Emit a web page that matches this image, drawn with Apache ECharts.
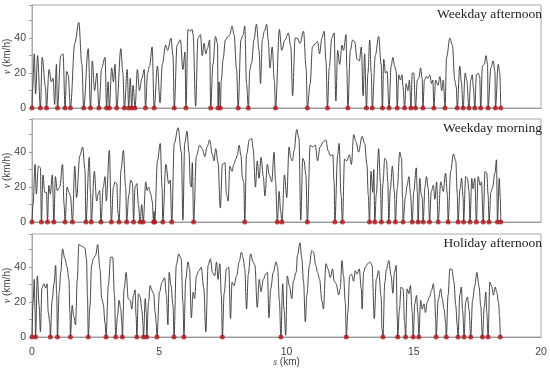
<!DOCTYPE html>
<html><head><meta charset="utf-8">
<script src="https://cdn.jsdelivr.net/npm/echarts@6/dist/echarts.min.js"></script>
<style>html,body{margin:0;padding:0;background:#fff}#c{width:550px;height:370px}</style>
</head><body><div id="c"></div>
<script>
const panelTitles = ['Weekday afternoon', 'Weekday morning', 'Holiday afternoon'];
const xTicks = [0, 5, 10, 15, 20];
const yTicks = [0, 20, 40];

// [s (km), v (km/h)] ; v = 0 marks a stop (red dot)
const weekdayAfternoon = [
[0,0],[0.02,10],[0.09,31],[0.14,8],[0.22,30],[0.33,0],
[0.40,29],[0.53,12],[0.57,0],
[0.67,22],[0.76,15],[0.83,17],[0.89,2],[0.96,25],[1.00,0],
[1.13,30],[1.22,31],[1.30,0],
[1.36,21],[1.42,19],[1.51,0],
[1.68,37],[1.84,49],[1.96,25],[2.03,0],
[2.21,34],[2.30,0],
[2.37,27],[2.46,10],[2.55,20],[2.63,0],
[2.74,23],[2.87,29],[2.93,0],
[2.99,15],[3.04,0],
[3.13,23],[3.20,15],[3.26,25],[3.33,0],
[3.49,34],[3.57,20],[3.63,0],
[3.74,22],[3.80,0],
[3.86,17],[3.92,0],
[3.97,13],[4.05,0],
[4.14,22],[4.22,10],[4.32,17],[4.41,22],[4.46,0],
[4.54,20],[4.62,24],[4.72,35],[4.80,0],
[4.93,24],[5.03,3],[5.12,25],[5.25,36],[5.33,33],[5.46,40],[5.54,30],[5.59,0],
[5.70,36],[5.83,39],[5.93,22],[6.01,32],[6.05,0],
[6.13,45],[6.22,44],[6.29,45],[6.33,42],[6.43,1],
[6.52,40],[6.62,42],[6.69,30],[6.76,37],[6.83,31],[6.89,34],[6.98,39],[7.02,0],
[7.11,25],[7.21,41],[7.29,37],[7.31,0],
[7.35,15],[7.40,0],
[7.44,16],[7.51,28],[7.60,39],[7.71,41],[7.77,42],[7.86,47],[7.94,42],[8.04,22],[8.10,0],
[8.21,39],[8.30,42],[8.36,47],[8.43,14],[8.50,0],
[8.56,22],[8.63,26],[8.72,39],[8.82,48],[8.92,33],[8.98,14],[9.05,39],[9.13,44],[9.22,48],[9.28,39],[9.35,23],[9.44,35],[9.52,16],[9.57,0],
[9.72,45],[9.81,33],[9.94,39],[10.07,43],[10.17,35],[10.24,7],[10.34,40],[10.43,40],[10.53,37],[10.67,44],[10.77,23],[10.82,0],
[10.93,14],[11.02,35],[11.13,37],[11.22,38],[11.30,31],[11.39,40],[11.48,44],[11.55,27],[11.61,0],
[11.68,23],[11.78,40],[11.87,43],[11.94,4],[12.01,33],[12.09,25],[12.18,36],[12.24,33],[12.34,42],[12.37,23],[12.41,0],
[12.51,33],[12.60,39],[12.68,38],[12.77,28],[12.86,27],[12.94,35],[13.01,7],[13.07,31],[13.14,0],
[13.20,20],[13.27,39],[13.33,20],[13.37,0],
[13.49,30],[13.62,41],[13.72,25],[13.77,0],
[13.82,28],[13.89,20],[13.95,21],[14.03,0],
[14.11,24],[14.18,29],[14.25,24],[14.31,21],[14.35,0],
[14.41,19],[14.48,16],[14.54,19],[14.58,12],[14.64,0],
[14.70,14],[14.77,10],[14.83,16],[14.89,0],
[14.94,20],[15.00,20],[15.07,0],
[15.14,16],[15.20,17],[15.27,23],[15.33,17],[15.36,0],
[15.42,16],[15.49,18],[15.56,17],[15.63,19],[15.70,14],[15.75,16],[15.79,0],
[15.86,16],[15.95,13],[16.03,18],[16.10,10],[16.16,16],[16.23,0],
[16.29,29],[16.42,40],[16.52,36],[16.61,16],[16.67,12],[16.71,0],
[16.81,24],[16.87,15],[16.94,0],
[17.02,20],[17.08,16],[17.17,0],
[17.24,16],[17.30,19],[17.34,12],[17.40,0],
[17.46,19],[17.53,20],[17.59,18],[17.63,0],
[17.70,24],[17.77,25],[17.84,30],[17.90,25],[17.92,0],
[18.03,23],[18.12,27],[18.19,21],[18.21,0],
[18.32,25],[18.38,20],[18.42,0]
];

const weekdayMorning = [
[0,0],[0.04,10],[0.12,33],[0.17,16],[0.25,32],[0.33,31],[0.37,0],
[0.43,27],[0.50,17],[0.57,17],[0.61,0],
[0.66,21],[0.72,16],[0.80,27],[0.86,0],
[0.92,26],[0.99,18],[1.09,20],[1.20,33],[1.26,10],[1.30,0],
[1.38,20],[1.45,17],[1.51,15],[1.59,0],
[1.68,32],[1.75,14],[1.88,38],[1.99,43],[2.08,30],[2.12,0],
[2.25,37],[2.30,17],[2.33,0],
[2.45,29],[2.54,12],[2.60,16],[2.66,18],[2.71,0],
[2.80,20],[2.87,26],[2.92,12],[3.04,41],[3.12,0],
[3.20,20],[3.26,23],[3.33,22],[3.38,5],[3.42,0],
[3.50,30],[3.59,41],[3.68,20],[3.72,0],
[3.80,15],[3.88,24],[3.95,22],[3.99,0],
[4.05,20],[4.12,22],[4.18,10],[4.25,0],
[4.31,10],[4.37,0],
[4.47,23],[4.52,18],[4.58,20],[4.67,16],[4.72,12],[4.78,0],
[4.80,6],[4.82,0],
[4.93,35],[5.04,45],[5.11,20],[5.14,0],
[5.26,33],[5.37,22],[5.43,24],[5.49,0],
[5.59,45],[5.74,54],[5.87,40],[5.93,1],
[6.00,45],[6.09,52],[6.17,40],[6.22,22],[6.26,20],[6.30,34],[6.35,0],
[6.46,38],[6.59,44],[6.69,42],[6.79,37.5],[6.88,43],[6.98,47],[7.08,39],[7.15,35],[7.22,42],[7.31,34],[7.40,8],[7.48,33],[7.58,34],[7.64,16],[7.71,12],[7.77,32],[7.86,29],[7.93,33],[8.01,36],[8.07,38.5],[8.14,44],[8.21,38],[8.27,25],[8.32,23],[8.36,0],
[8.43,38.5],[8.54,47],[8.63,48],[8.69,42],[8.78,20],[8.85,35],[8.92,25],[9.00,37],[9.09,26],[9.15,15],[9.25,33],[9.32,27],[9.42,23],[9.51,40],[9.57,23],[9.64,0],
[9.71,17.5],[9.77,6],[9.82,0],
[9.92,27],[10.01,14],[10.10,43],[10.17,36.5],[10.23,35],[10.30,41],[10.40,53],[10.49,48],[10.56,1],[10.64,36.5],[10.69,35],[10.76,27],[10.82,0],
[10.93,44],[11.03,43],[11.13,44],[11.22,35],[11.32,43],[11.45,46],[11.55,47],[11.63,41],[11.72,38],[11.82,38.5],[11.87,23],[11.90,0],
[12.01,38.5],[12.07,45],[12.14,16],[12.20,0],
[12.28,36],[12.37,35],[12.47,38.5],[12.55,33],[12.64,50],[12.73,46],[12.83,40],[12.97,49],[13.07,45],[13.16,33],[13.21,16],[13.26,0],
[13.32,29],[13.39,17],[13.43,30],[13.47,0],
[13.53,16],[13.62,42],[13.69,23],[13.73,0],
[13.79,22],[13.86,36.5],[13.93,35],[13.98,23],[14.02,0],
[14.08,19],[14.16,32],[14.24,17],[14.28,0],
[14.35,19],[14.45,40],[14.52,36.5],[14.56,14],[14.58,0],
[14.68,15],[14.74,21],[14.81,26],[14.87,16],[14.94,0],
[15.00,17.5],[15.10,31],[15.14,17.5],[15.17,0],
[15.24,25],[15.29,16],[15.33,14],[15.37,0],
[15.44,20],[15.50,26],[15.57,19],[15.62,0],
[15.69,17.5],[15.77,21],[15.83,13],[15.90,23],[15.96,0],
[16.06,23],[16.16,17.5],[16.25,28],[16.32,16],[16.35,0],
[16.45,29],[16.56,39],[16.65,35],[16.71,16],[16.74,0],
[16.82,19],[16.88,25],[16.94,14],[16.96,0],
[17.04,26],[17.11,25],[17.17,17.5],[17.21,0],
[17.28,25],[17.33,19],[17.40,25],[17.46,0],
[17.53,26],[17.61,21],[17.66,23],[17.73,0],
[17.80,29],[17.87,28],[17.92,16],[17.96,0],
[18.03,17],[18.09,19.5],[18.19,28],[18.25,35.6],[18.29,0],
[18.36,25],[18.40,14],[18.42,0]
];

const holidayAfternoon = [
[0,0],[0.04,20],[0.09,33],[0.12,15],[0.14,0],
[0.21,35],[0.28,18],[0.33,3],[0.39,28],[0.47,30.5],[0.54,28],[0.59,30.5],[0.64,14],[0.70,8],[0.72,0],
[0.79,21],[0.87,31],[0.93,41],[0.97,24],[1.00,0],
[1.07,26],[1.13,37],[1.20,50.5],[1.29,45],[1.38,40],[1.45,33],[1.49,14],[1.51,0],
[1.58,18],[1.64,12],[1.71,7],[1.78,33],[1.84,53],[1.95,52],[2.08,51],[2.14,45],[2.18,24],[2.21,0],
[2.28,18],[2.34,41],[2.41,45],[2.50,46.7],[2.58,53],[2.67,39],[2.74,22],[2.80,19],[2.87,8],[2.91,0],
[3.00,29.5],[3.09,45.7],[3.17,45.7],[3.24,24],[3.29,0],
[3.36,12],[3.42,21],[3.49,16],[3.53,8],[3.55,0],
[3.62,27.6],[3.70,37],[3.78,22],[3.86,21],[3.92,16],[3.99,24],[4.05,27],[4.09,12],[4.12,0],
[4.18,24.8],[4.25,23],[4.32,15],[4.36,7],[4.38,0],
[4.45,22],[4.49,14],[4.51,0],
[4.58,20],[4.64,29.5],[4.71,26.7],[4.78,24.8],[4.84,14],[4.88,8],[4.91,0],
[5.01,25.7],[5.11,31.4],[5.21,34],[5.28,24],[5.34,7],[5.39,37],[5.46,29.5],[5.54,18],[5.58,0],
[5.67,41],[5.76,47.6],[5.86,44.8],[5.93,20],[5.97,0],
[6.04,33],[6.13,43],[6.19,39],[6.26,11],[6.33,25.7],[6.39,22],[6.46,35],[6.56,38],[6.65,40],[6.75,28],[6.83,3],[6.92,41],[7.01,44.8],[7.09,37],[7.18,35],[7.25,43],[7.31,33],[7.38,42],[7.44,24],[7.48,0],
[7.55,25],[7.64,39],[7.73,40],[7.80,10.5],[7.86,31.4],[7.94,29.5],[8.04,35],[8.14,43],[8.23,48.6],[8.30,45],[8.36,39],[8.43,16],[8.50,36],[8.59,47.6],[8.69,43],[8.76,41],[8.85,17],[8.93,33],[9.00,26],[9.09,33],[9.18,36],[9.25,37],[9.31,11],[9.38,27.6],[9.48,37],[9.59,43],[9.65,40],[9.72,21],[9.78,0],
[9.85,30.5],[9.90,16],[9.97,1],[10.03,35],[10.11,29.5],[10.21,22],[10.27,32],[10.38,37],[10.43,46.7],[10.53,54],[10.60,45],[10.67,31.4],[10.74,8.6],[10.80,24],[10.90,41],[10.99,49.5],[11.06,48.6],[11.15,41],[11.22,37],[11.30,33],[11.39,21],[11.45,16],[11.55,42],[11.63,39],[11.72,34],[11.81,39],[11.87,32],[11.95,30.5],[12.05,24],[12.11,27.6],[12.18,43.8],[12.24,35],[12.31,20],[12.35,0],
[12.41,14],[12.48,35],[12.55,36],[12.64,32],[12.70,38],[12.77,36],[12.86,39],[12.94,27.6],[12.97,16],
[13.03,37],[13.10,40],[13.19,42],[13.29,43],[13.36,41],[13.45,10.5],[13.53,33],[13.62,38],[13.72,23],[13.75,5],[13.79,0],
[13.86,31],[13.93,39],[14.02,43.8],[14.11,35],[14.18,25],[14.24,37],[14.31,41],[14.35,12],[14.37,0],
[14.44,16],[14.50,28.6],[14.58,27.6],[14.64,8.6],[14.68,0],
[14.74,27.6],[14.81,24.8],[14.87,29.5],[14.94,14],[14.98,0],
[15.04,19],[15.11,23.8],[15.16,14],[15.20,0],
[15.27,21],[15.33,16],[15.40,19],[15.46,14],[15.53,20],[15.62,23],[15.70,26.7],[15.77,30.5],[15.82,24],[15.86,10.5],[15.88,0],
[15.96,21],[16.06,27.6],[16.12,22],[16.19,16],[16.25,8.6],[16.28,0],
[16.35,24],[16.42,39],[16.50,38.7],[16.58,31.4],[16.65,18],[16.71,6.7],[16.74,0],
[16.81,24],[16.87,28.6],[16.92,15],[16.98,0],
[17.04,20],[17.11,23],[17.17,16],[17.24,0],
[17.31,21],[17.40,29.5],[17.48,37],[17.57,28.6],[17.63,18],[17.70,0],
[17.77,17],[17.83,25.7],[17.87,14],[17.92,0],
[17.99,31.4],[18.07,28.6],[18.13,24],[18.20,28.6],[18.26,25.7],[18.33,20],[18.37,12.4],[18.40,0]
];

const profiles = [weekdayAfternoon, weekdayMorning, holidayAfternoon];
const stopsOf = p => p.filter(d => d[1] === 0).map(d => [d[0], 0]);

const gridTops = [5, 119, 234];
const chart = echarts.init(document.getElementById('c'), null, {renderer: 'canvas'});
const grids = [], xAxes = [], yAxes = [], series = [], graphics = [];
profiles.forEach((p, i) => {
  grids.push({left: 32, right: 9, top: gridTops[i], height: 103, show: true,
    outerBoundsMode: 'none', containLabel: false,
    borderColor: '#a8a8a8', borderWidth: 1, backgroundColor: 'transparent'});
  const last = i === 2;
  xAxes.push({type: 'value', gridIndex: i, min: xTicks[0], max: xTicks[xTicks.length - 1], interval: 5,
    axisLine: {show: true, lineStyle: {color: '#999', width: 1}},
    axisTick: {show: false}, splitLine: {show: false},
    axisLabel: {show: last, color: '#444', fontSize: 10.5, fontFamily: 'Liberation Sans', margin: 10},
    name: last ? '{i|s} (km)' : '', nameLocation: 'middle', nameGap: 20, nameMoveOverlap: false,
    nameTextStyle: {color: '#444', fontSize: 10, fontFamily: 'Liberation Sans',
      rich: {i: {fontStyle: 'italic', color: '#444', fontSize: 10, fontFamily: 'Liberation Serif'}}}});
  yAxes.push({type: 'value', gridIndex: i, min: 0, max: 59, interval: 10,
    axisLine: {show: true, lineStyle: {color: '#a8a8a8', width: 1}},
    axisTick: {show: true, length: 3, lineStyle: {color: '#999'}},
    splitLine: {show: false},
    axisLabel: {color: '#444', fontSize: 10.5, fontFamily: 'Liberation Sans', margin: 6,
      formatter: v => yTicks.includes(v) ? String(v) : ''},
    name: '{i|v} (km/h)', nameLocation: 'middle', nameGap: 20, nameRotate: 90, nameMoveOverlap: false,
    nameTextStyle: {color: '#444', fontSize: 10, fontFamily: 'Liberation Sans',
      rich: {i: {fontStyle: 'italic', color: '#444', fontSize: 10, fontFamily: 'Liberation Serif'}}}});
  series.push({type: 'line', xAxisIndex: i, yAxisIndex: i, data: p, showSymbol: false,
    smooth: 0.35, smoothMonotone: 'x', lineStyle: {color: '#333', width: 0.9}, z: 2, silent: true});
  series.push({type: 'scatter', xAxisIndex: i, yAxisIndex: i, data: stopsOf(p), symbolSize: 5,
    itemStyle: {color: '#b3161b'}, clip: false, z: 3, silent: true});
  graphics.push({type: 'text', right: 8, top: gridTops[i] + 2,
    style: {text: panelTitles[i], font: '13.5px "Liberation Serif"', fill: '#222'}});
});
chart.setOption({animation: false, grid: grids, xAxis: xAxes, yAxis: yAxes, series, graphic: graphics});
</script></body></html>
